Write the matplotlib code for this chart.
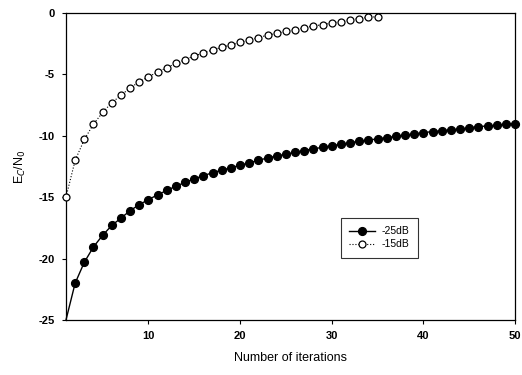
import numpy as np
import matplotlib
matplotlib.use("Agg")
import matplotlib.pyplot as plt

plt.rcParams["font.family"] = ["Liberation Sans", "DejaVu Sans"]

# values
iters_25 = list(range(1, 51))
ec_n0_25 = [-25.0, -22.0, -20.3, -19.05, -18.1, -17.3, -16.7, -16.1, -15.6, -15.2,
            -14.8, -14.45, -14.1, -13.8, -13.5, -13.25, -13.0, -12.8, -12.6, -12.4,
            -12.2, -12.0, -11.8, -11.65, -11.5, -11.35, -11.2, -11.05, -10.95, -10.8,
            -10.7, -10.55, -10.45, -10.35, -10.25, -10.15, -10.05, -9.95, -9.85, -9.75,
            -9.65, -9.6, -9.5, -9.45, -9.35, -9.25, -9.2, -9.15, -9.05, -9.0]

iters_15 = list(range(1, 36))
ec_n0_15 = [-15.0, -12.0, -10.3, -9.05, -8.1, -7.3, -6.7, -6.1, -5.6, -5.2,
            -4.8, -4.45, -4.1, -3.8, -3.5, -3.25, -3.0, -2.8, -2.6, -2.4,
            -2.2, -2.0, -1.8, -1.65, -1.5, -1.35, -1.2, -1.05, -0.95, -0.8,
            -0.7, -0.55, -0.45, -0.35, -0.3]

fig = plt.figure(figsize=(5.22, 3.75), dpi=100)
ax = fig.add_axes([0.1264, 0.1467, 0.8602, 0.8186])

# first point of the -25dB curve sits in the corner without a marker
ax.plot(iters_25, ec_n0_25, "-", color="black", lw=1.0, marker="o",
        ms=5.6, mfc="black", mec="black", markevery=slice(1, None),
        label="-25dB", clip_on=False, zorder=3)
ax.plot(iters_15, ec_n0_15, ":", color="black", lw=0.8, marker="o",
        ms=5.0, mfc="white", mec="black", mew=0.9, label="-15dB",
        clip_on=False, zorder=3)

ax.set_xlim(1, 50)
ax.set_ylim(-25, 0)
ax.set_xticks([10, 20, 30, 40, 50])
ax.set_yticks([0, -5, -10, -15, -20, -25])
ax.set_yticklabels(["0", "-5", "-10", "-15", "-20", "-25"])
ax.tick_params(direction="out", length=3, width=0.8, labelsize=8, pad=5)
for lbl in ax.get_xticklabels() + ax.get_yticklabels():
    lbl.set_fontweight("bold")
for s in ax.spines.values():
    s.set_linewidth(0.9)

ax.set_xlabel("Number of iterations", fontsize=9, labelpad=8)
ax.set_ylabel("E$_C$/N$_0$", fontsize=9, labelpad=8)

leg = ax.legend(loc="lower left", bbox_to_anchor=(0.601, 0.186), fontsize=7.5,
                frameon=True, fancybox=False, edgecolor="black", handlelength=2.5,
                borderpad=0.8, labelspacing=0.3, handletextpad=0.6)
leg.get_frame().set_linewidth(0.8)

fig.savefig("out.png", dpi=100)
